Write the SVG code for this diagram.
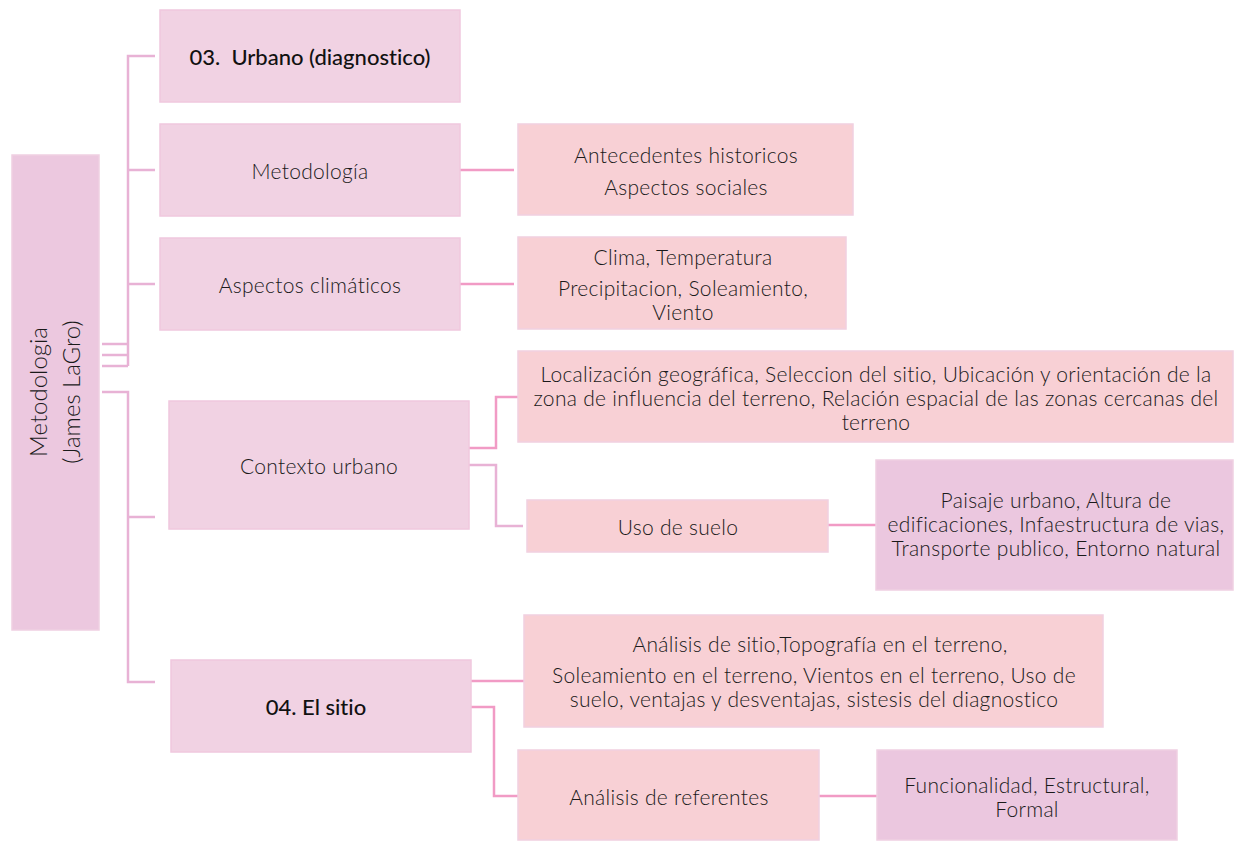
<svg xmlns="http://www.w3.org/2000/svg" width="1234" height="841" viewBox="0 0 1234 841">
<style>
.t{font-family:Lato,"Noto Sans","Liberation Sans",sans-serif;font-size:21px;letter-spacing:0.3px;font-weight:300;fill:#1a1a1a;text-anchor:middle;dominant-baseline:central;font-variant-ligatures:none}
.b{font-weight:500;fill:#111;font-size:22px;letter-spacing:0}
.r{font-size:24px;letter-spacing:0}
.n1{fill:#f1d2e3;stroke:#f0c8de;stroke-width:1.5}
.n0{fill:#ecc8df;stroke:#efd0e2;stroke-width:1.5}
.n2{fill:#f8d0d5;stroke:#f1d0e0;stroke-width:1.5}
.n3{fill:#ebc7df;stroke:#efd0e2;stroke-width:1.5}
.c1{fill:none;stroke:#e8b2d5;stroke-width:2.5}
.c2{fill:none;stroke:#f19bc5;stroke-width:2.5}
</style>
<rect width="1234" height="841" fill="#ffffff"/>
<g id="connectors">
<path class="c1" d="M102 344H128M102 355H128M102 366H128M128 366V56H155M128 170H155M128 284H155"/>
<path class="c1" d="M102 392H128V682H155M128 517H155"/>
<path class="c2" d="M460 170H514M460 284H514"/>
<path class="c2" d="M469 448H496V397H518"/>
<path class="c1" d="M469 465H496V526H523"/>
<path class="c2" d="M828 525H876"/>
<path class="c2" d="M471 681H524"/>
<path class="c2" d="M471 707H494V796H518"/>
<path class="c2" d="M819 796H877"/>
</g>
<g id="root">
<rect class="n0" x="12" y="155" width="87" height="475"/>
<text class="t r" transform="translate(37,392) rotate(-90)">Metodologia</text>
<text class="t r" transform="translate(70,392) rotate(-90)">(James LaGro)</text>
</g>
<g id="urbano">
<rect class="n1" x="160" y="10" width="300" height="92"/>
<text class="t b" x="310" y="56" xml:space="preserve">03.  Urbano (diagnostico)</text>
</g>
<g id="metodologia">
<rect class="n1" x="160" y="124" width="300" height="92"/>
<text class="t" x="310" y="170">Metodología</text>
</g>
<g id="aspectos">
<rect class="n1" x="160" y="238" width="300" height="92"/>
<text class="t" x="310" y="284">Aspectos climáticos</text>
</g>
<g id="contexto">
<rect class="n1" x="169" y="401" width="300" height="128"/>
<text class="t" x="319" y="465">Contexto urbano</text>
</g>
<g id="sitio">
<rect class="n1" x="171" y="660" width="300" height="92"/>
<text class="t b" x="316" y="706">04. El sitio</text>
</g>
<g id="antecedentes">
<rect class="n2" x="518" y="124" width="335" height="91"/>
<text class="t" x="686" y="154">Antecedentes historicos</text>
<text class="t" x="686" y="186">Aspectos sociales</text>
</g>
<g id="clima">
<rect class="n2" x="518" y="237" width="328" height="92"/>
<text class="t" x="683" y="256">Clima, Temperatura</text>
<text class="t" x="683" y="287">Precipitacion, Soleamiento,</text>
<text class="t" x="683" y="311">Viento</text>
</g>
<g id="localizacion">
<rect class="n2" x="518" y="351" width="715" height="91"/>
<text class="t" x="876" y="373">Localización geográfica, Seleccion del sitio, Ubicación y orientación de la</text>
<text class="t" x="876" y="397">zona de influencia del terreno, Relación espacial de las zonas cercanas del</text>
<text class="t" x="876" y="421">terreno</text>
</g>
<g id="uso">
<rect class="n2" x="527" y="500" width="301" height="52"/>
<text class="t" x="678" y="526">Uso de suelo</text>
</g>
<g id="paisaje">
<rect class="n3" x="876" y="460" width="357" height="130"/>
<text class="t" x="1056" y="499">Paisaje urbano, Altura de</text>
<text class="t" x="1056" y="523">edificaciones, Infaestructura de vias,</text>
<text class="t" x="1056" y="547">Transporte publico, Entorno natural</text>
</g>
<g id="analisis-sitio">
<rect class="n2" x="524" y="615" width="579" height="112"/>
<text class="t" x="820" y="643">Análisis de sitio,Topografía en el terreno,</text>
<text class="t" x="814" y="674">Soleamiento en el terreno, Vientos en el terreno, Uso de</text>
<text class="t" x="814" y="698">suelo, ventajas y desventajas, sistesis del diagnostico</text>
</g>
<g id="referentes">
<rect class="n2" x="518" y="750" width="301" height="90"/>
<text class="t" x="669" y="796">Análisis de referentes</text>
</g>
<g id="funcionalidad">
<rect class="n3" x="877" y="750" width="300" height="90"/>
<text class="t" x="1027" y="784">Funcionalidad, Estructural,</text>
<text class="t" x="1027" y="808">Formal</text>
</g>
</svg>
